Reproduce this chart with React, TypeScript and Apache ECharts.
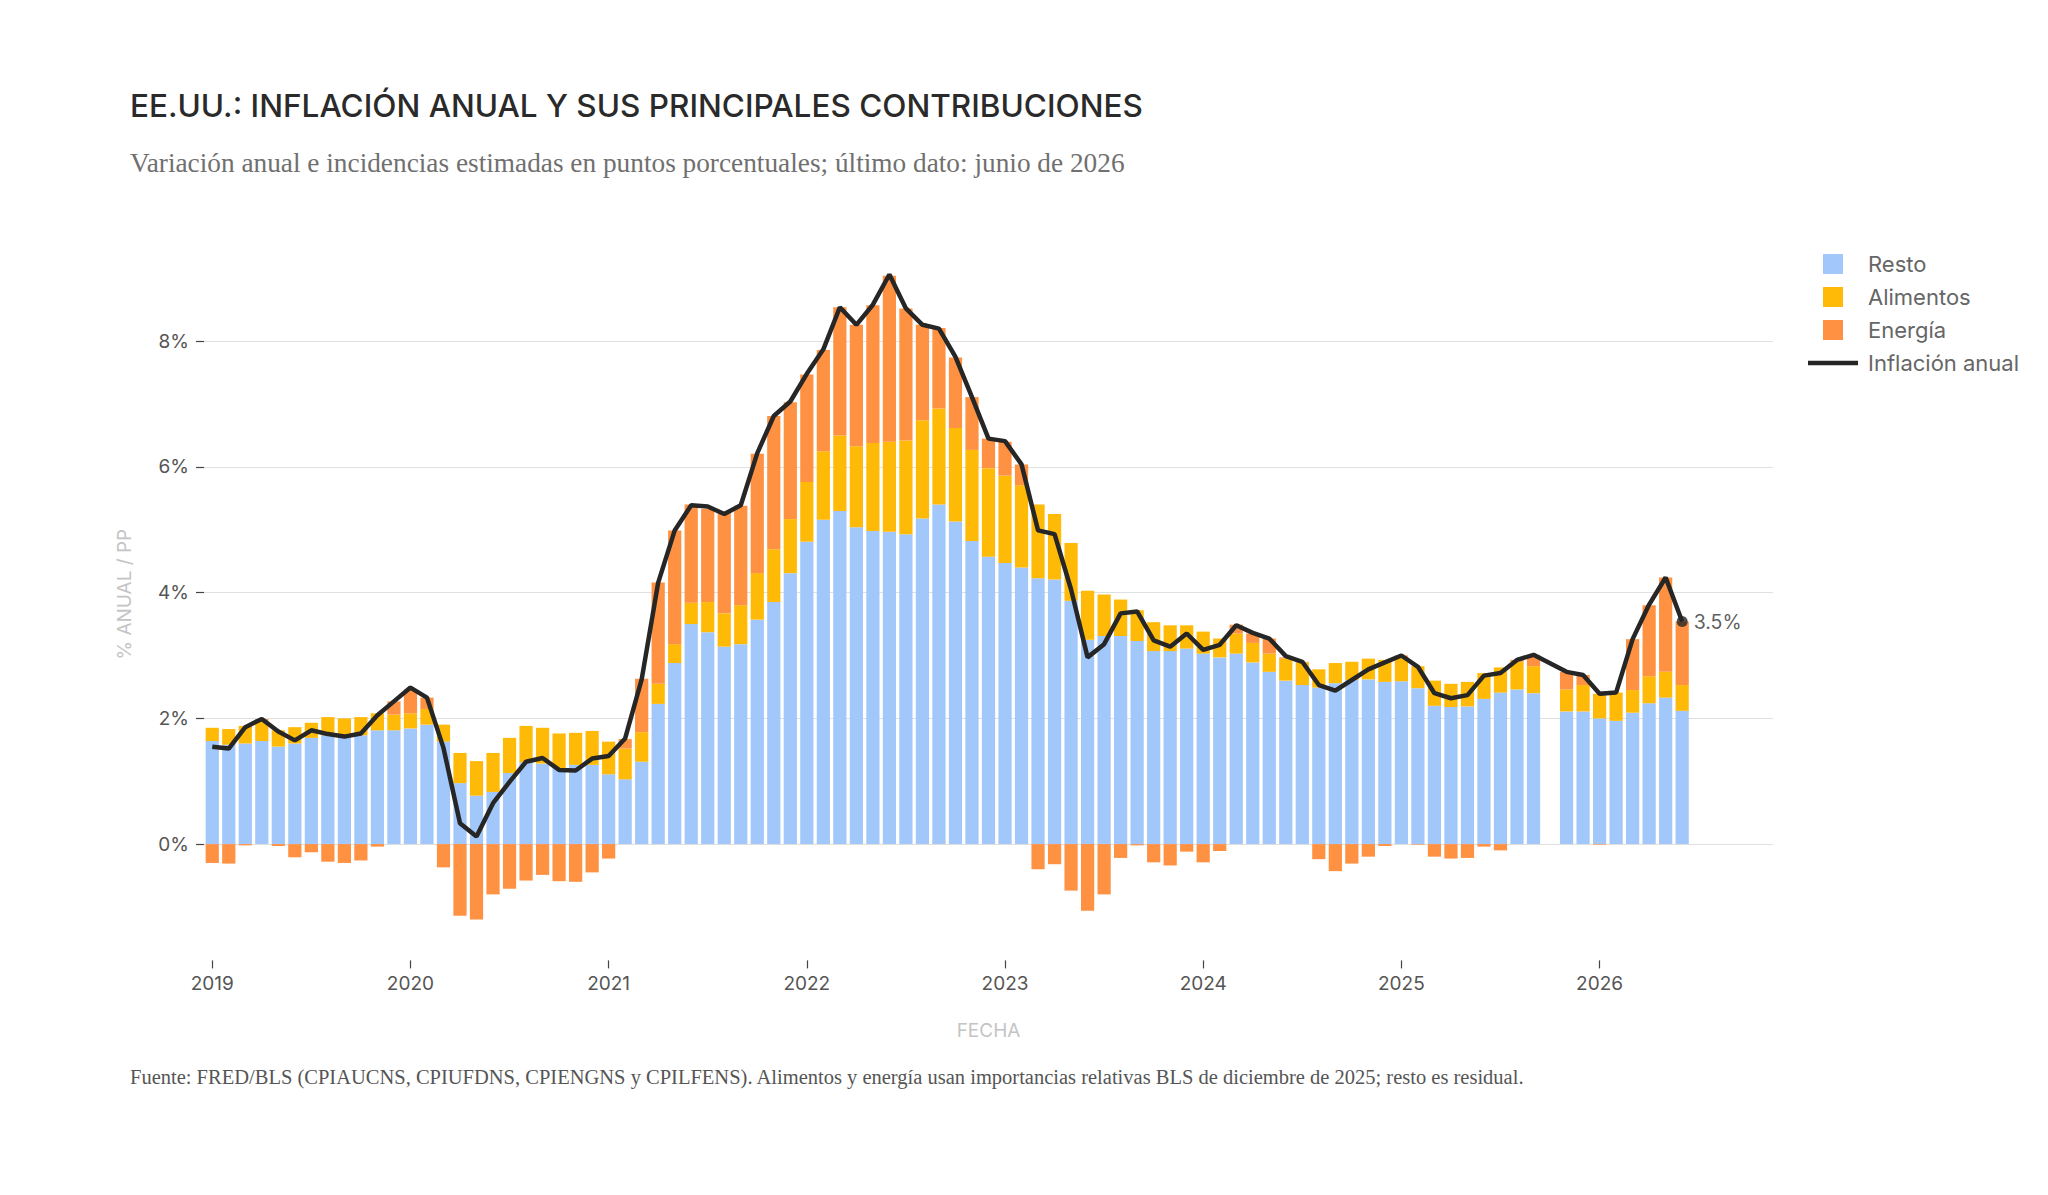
import React, { useEffect, useRef } from "react";
import * as echarts from "echarts";

// ---- Data ----
const startYear = 2019;
const totalMonths = 95; // Jan 2019 .. Nov 2026 (axis range extends past last data point)
const categories: string[] = [];
for (let i = 0; i < totalMonths; i++) {
  const y = startYear + Math.floor(i / 12);
  const m = (i % 12) + 1;
  categories.push(`${y}-${m < 10 ? "0" + m : m}`);
}

const resto = [
  1.64, 1.58, 1.60, 1.64, 1.55, 1.60, 1.69, 1.73, 1.70, 1.73, 1.81, 1.81,
  1.84, 1.90, 1.63, 0.97, 0.77, 0.83, 1.13, 1.30, 1.28, 1.21, 1.26, 1.26,
  1.11, 1.03, 1.31, 2.23, 2.88, 3.50, 3.37, 3.14, 3.18, 3.57, 3.85, 4.31,
  4.81, 5.16, 5.30, 5.04, 4.98, 4.97, 4.93, 5.18, 5.40, 5.13, 4.82, 4.57,
  4.47, 4.40, 4.23, 4.21, 3.87, 3.25, 3.31, 3.31, 3.23, 3.07, 3.07, 3.11,
  3.03, 2.97, 3.03, 2.89, 2.74, 2.60, 2.53, 2.49, 2.56, 2.61, 2.62, 2.58,
  2.59, 2.48, 2.20, 2.18, 2.19, 2.31, 2.41, 2.46, 2.40, null, 2.11, 2.11,
  2.00, 1.96, 2.09, 2.24, 2.33, 2.12,
];

const alimentos = [
  0.21, 0.25, 0.28, 0.32, 0.26, 0.26, 0.24, 0.29, 0.30, 0.29, 0.27, 0.25,
  0.24, 0.25, 0.27, 0.48, 0.55, 0.62, 0.56, 0.58, 0.57, 0.55, 0.51, 0.54,
  0.52, 0.49, 0.47, 0.32, 0.30, 0.34, 0.48, 0.53, 0.62, 0.74, 0.84, 0.86,
  0.95, 1.09, 1.20, 1.29, 1.40, 1.43, 1.49, 1.56, 1.53, 1.49, 1.45, 1.41,
  1.39, 1.31, 1.17, 1.04, 0.92, 0.78, 0.66, 0.58, 0.49, 0.46, 0.41, 0.37,
  0.35, 0.30, 0.32, 0.31, 0.29, 0.35, 0.36, 0.29, 0.32, 0.29, 0.33, 0.35,
  0.39, 0.35, 0.40, 0.37, 0.39, 0.41, 0.40, 0.44, 0.43, null, 0.35, 0.42,
  0.39, 0.45, 0.36, 0.43, 0.41, 0.41,
];

const energia = [
  -0.30, -0.31, -0.02, 0.03, -0.03, -0.21, -0.13, -0.28, -0.30, -0.26, -0.04, 0.21,
  0.38, 0.18, -0.37, -1.14, -1.20, -0.80, -0.71, -0.58, -0.49, -0.59, -0.60, -0.45,
  -0.23, 0.15, 0.85, 1.61, 1.81, 1.56, 1.48, 1.60, 1.58, 1.90, 2.12, 1.86,
  1.71, 1.61, 2.04, 1.93, 2.19, 2.64, 2.10, 1.52, 1.28, 1.12, 0.84, 0.47,
  0.54, 0.33, -0.40, -0.32, -0.74, -1.06, -0.80, -0.22, -0.02, -0.29, -0.34, -0.12,
  -0.29, -0.11, 0.14, 0.15, 0.24, 0.02, 0.01, -0.24, -0.43, -0.31, -0.20, -0.03,
  0.02, -0.01, -0.20, -0.23, -0.22, -0.04, -0.10, 0.03, 0.18, null, 0.28, 0.16,
  -0.01, 0.0, 0.81, 1.13, 1.50, 1.01,
];

const inflacion = [
  1.55, 1.52, 1.86, 1.99, 1.79, 1.65, 1.81, 1.75, 1.71, 1.76, 2.05, 2.27,
  2.49, 2.33, 1.53, 0.33, 0.12, 0.65, 0.99, 1.31, 1.37, 1.18, 1.17, 1.36,
  1.40, 1.68, 2.62, 4.16, 4.99, 5.39, 5.37, 5.25, 5.39, 6.22, 6.81, 7.04,
  7.48, 7.87, 8.54, 8.26, 8.58, 9.06, 8.52, 8.26, 8.20, 7.75, 7.11, 6.45,
  6.41, 6.04, 4.99, 4.93, 4.05, 2.97, 3.18, 3.67, 3.70, 3.24, 3.14, 3.35,
  3.09, 3.17, 3.48, 3.36, 3.27, 2.99, 2.90, 2.53, 2.44, 2.61, 2.78, 2.89,
  3.00, 2.82, 2.40, 2.32, 2.37, 2.68, 2.72, 2.93, 3.01, null, 2.74, 2.69,
  2.39, 2.41, 3.26, 3.81, 4.24, 3.54,
];

const yTickValues = [0, 2, 4, 6, 8];
const lastPointLabel = "3.5%";

const titleText = "EE.UU.: INFLACIÓN ANUAL Y SUS PRINCIPALES CONTRIBUCIONES";
const subtitleText =
  "Variación anual e incidencias estimadas en puntos porcentuales; último dato: junio de 2026";
const footerText =
  "Fuente: FRED/BLS (CPIAUCNS, CPIUFDNS, CPIENGNS y CPILFENS). Alimentos y energía usan importancias relativas BLS de diciembre de 2025; resto es residual.";

const COLORS = {
  resto: "#a1c7fb",
  alimentos: "#ffba08",
  energia: "#ff9142",
  line: "#262626",
};

const SANS = "Inter, 'Noto Sans', sans-serif";
const SERIF = "'Liberation Serif', 'Times New Roman', serif";

export default function App() {
  const ref = useRef<HTMLDivElement>(null);

  useEffect(() => {
    document.body.style.margin = "0";
    if (!ref.current) return;
    const chart = echarts.init(ref.current, null, { renderer: "svg" });

    const lastIdx = inflacion.length - 1;
    const lastPoint = inflacion.map((v, i) => (i === lastIdx ? v : null));
    const janOnly = (i: number) => i % 12 === 0;

    chart.setOption({
      animation: false,
      backgroundColor: "#ffffff",
      title: [
        {
          text: titleText,
          left: 130,
          top: 86,
          padding: 0,
          textStyle: { fontFamily: SANS, fontSize: 31.5, fontWeight: 500, color: "#2a2a2a", lineHeight: 38 },
        },
        {
          text: subtitleText,
          left: 130,
          top: 147,
          padding: 0,
          textStyle: { fontFamily: SERIF, fontSize: 27.3, fontWeight: 400, color: "#707070", lineHeight: 32 },
        },
        {
          text: footerText,
          left: 130,
          top: 1065,
          padding: 0,
          textStyle: { fontFamily: SERIF, fontSize: 20.5, fontWeight: 400, color: "#555555", lineHeight: 24 },
        },
      ],
      legend: [
        {
          data: ["Resto", "Alimentos", "Energía"],
          orient: "vertical",
          left: 1823,
          top: 253,
          padding: 0,
          icon: "rect",
          itemWidth: 20,
          itemHeight: 20,
          itemGap: 11,
          selectedMode: false,
          textStyle: { fontFamily: SANS, fontSize: 22, color: "#666666", lineHeight: 20, padding: [0, 0, 0, 20] },
        },
        {
          data: [{ name: "Inflación anual", icon: "rect" }],
          orient: "vertical",
          left: 1808,
          top: 352,
          padding: 0,
          itemWidth: 50,
          itemHeight: 4.5,
          selectedMode: false,
          itemStyle: { color: COLORS.line },
          textStyle: { fontFamily: SANS, fontSize: 22, color: "#666666", lineHeight: 20, padding: [0, 0, 0, 5] },
        },
      ],
      grid: { left: 204, right: 275, top: 228, bottom: 234.6, containLabel: false },
      xAxis: {
        type: "category",
        data: categories,
        boundaryGap: true,
        axisLine: { show: false, onZero: false },
        axisTick: {
          show: true,
          alignWithLabel: true,
          interval: janOnly,
          length: 8,
          lineStyle: { color: "#444444", width: 1.2 },
        },
        axisLabel: {
          interval: janOnly,
          formatter: (v: string) => v.slice(0, 4),
          color: "#555555",
          fontFamily: SANS,
          fontSize: 19,
          margin: 14,
        },
        splitLine: { show: false },
        name: "FECHA",
        nameLocation: "middle",
        nameGap: 61,
        nameTextStyle: { color: "#c4c4c4", fontFamily: SANS, fontSize: 19 },
      },
      yAxis: {
        type: "value",
        min: -1.85,
        max: 9.8,
        axisLine: { show: false },
        axisTick: {
          show: true,
          length: 8,
          customValues: yTickValues,
          lineStyle: { color: "#444444", width: 1.2 },
        },
        axisLabel: {
          customValues: yTickValues,
          formatter: (v: number) => `${v}%`,
          color: "#555555",
          fontFamily: SANS,
          fontSize: 19,
          margin: 15,
        },
        splitLine: {
          show: true,
          lineStyle: { color: "#e0e0e0", width: 1 },
        },
        name: "% ANUAL / PP",
        nameLocation: "middle",
        nameGap: 70,
        nameTextStyle: { color: "#c4c4c4", fontFamily: SANS, fontSize: 19 },
      },
      series: [
        {
          name: "Resto",
          type: "bar",
          stack: "total",
          data: resto,
          barCategoryGap: "20%",
          itemStyle: { color: COLORS.resto },
        },
        {
          name: "Alimentos",
          type: "bar",
          stack: "total",
          data: alimentos,
          barCategoryGap: "20%",
          itemStyle: { color: COLORS.alimentos },
        },
        {
          name: "Energía",
          type: "bar",
          stack: "total",
          data: energia,
          barCategoryGap: "20%",
          itemStyle: { color: COLORS.energia },
        },
        {
          name: "Inflación anual",
          type: "line",
          data: inflacion,
          connectNulls: true,
          symbol: "none",
          showSymbol: false,
          z: 5,
          lineStyle: { color: COLORS.line, width: 4.5 },
          itemStyle: { color: COLORS.line },
        },
        {
          name: "Último dato",
          type: "scatter",
          data: lastPoint,
          symbol: "circle",
          symbolSize: 11,
          z: 6,
          itemStyle: { color: COLORS.line },
          label: {
            show: true,
            position: "right",
            distance: 6,
            formatter: lastPointLabel,
            color: "#333333",
            fontFamily: SANS,
            fontSize: 19.5,
          },
        },
      ],
    });

    return () => chart.dispose();
  }, []);

  return (
    <div
      ref={ref}
      style={{ position: "absolute", left: 0, top: 0, width: 2048, height: 1195 }}
    />
  );
}
